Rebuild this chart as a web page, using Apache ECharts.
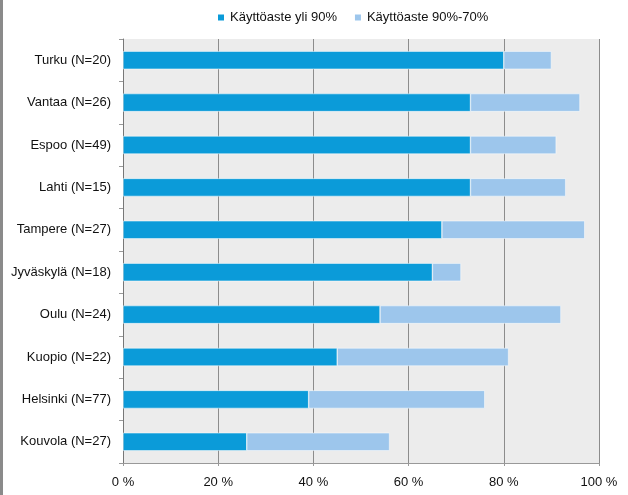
<!DOCTYPE html>
<html>
<head>
<meta charset="utf-8">
<script src="https://cdn.jsdelivr.net/npm/echarts@6/dist/echarts.min.js"></script>
<style>
  html, body { margin: 0; padding: 0; background: #fff; }
  #chart { width: 628px; height: 495px; }
</style>
</head>
<body>
<div id="chart"></div>
<script>
const cities = ['Turku (N=20)', 'Vantaa (N=26)', 'Espoo (N=49)', 'Lahti (N=15)', 'Tampere (N=27)',
  'Jyväskylä (N=18)', 'Oulu (N=24)', 'Kuopio (N=22)', 'Helsinki (N=77)', 'Kouvola (N=27)']
const over90 = [80, 73, 73, 73, 67, 65, 54, 45, 39, 26]
const from70to90 = [10, 23, 18, 20, 30, 6, 38, 36, 37, 30]
const seriesNames = ['Käyttöaste yli 90%', 'Käyttöaste 90%-70%']
const colors = ['#0b9bd9', '#9dc6ec']

const chart = echarts.init(document.getElementById('chart'))

const font = '"Liberation Sans", Arial, sans-serif'

chart.setOption({
  animation: false,
  textStyle: { fontFamily: font },
  color: colors,
  legend: {
    top: 6,
    left: 211,
    itemWidth: 8,
    itemHeight: 8,
    itemGap: 16,
    icon: 'rect',
    textStyle: { fontSize: 13, color: '#111', fontFamily: font }
  },
  grid: {
    left: 123,
    right: 29,
    top: 39,
    bottom: 32,
    show: true,
    backgroundColor: '#ececec',
    borderWidth: 0
  },
  graphic: [{
    type: 'rect',
    left: 0,
    top: 0,
    shape: { width: 3, height: 495 },
    style: { fill: '#8a8a8a' }
  }],
  xAxis: {
    type: 'value',
    min: 0,
    max: 100,
    interval: 20,
    axisLine: { show: true, lineStyle: { color: '#999' } },
    axisTick: { show: true, length: 3, lineStyle: { color: '#999' } },
    axisLabel: { formatter: '{value} %', fontSize: 13, color: '#111', margin: 13 },
    splitLine: { show: true, lineStyle: { color: '#8c8c8c', width: 1 } }
  },
  yAxis: {
    type: 'category',
    inverse: true,
    data: cities,
    axisLine: { show: true, lineStyle: { color: '#777' } },
    axisTick: { show: true, length: 4, lineStyle: { color: '#999' } },
    axisLabel: { fontSize: 13, color: '#111', margin: 12 },
    splitLine: { show: false }
  },
  series: [
    {
      name: seriesNames[0],
      type: 'bar',
      stack: 'total',
      barWidth: 18,
      data: over90,
      itemStyle: { color: colors[0], borderColor: '#fff', borderWidth: 0.5 }
    },
    {
      name: seriesNames[1],
      type: 'bar',
      stack: 'total',
      barWidth: 18,
      data: from70to90,
      itemStyle: { color: colors[1], borderColor: '#fff', borderWidth: 0.5 }
    }
  ]
})
</script>
</body>
</html>
